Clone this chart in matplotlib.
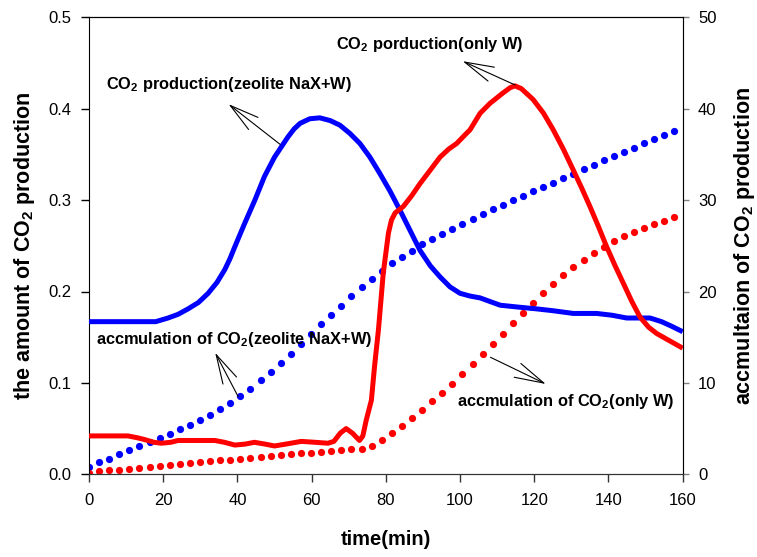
import numpy as np
import matplotlib
matplotlib.use("Agg")
import matplotlib.pyplot as plt

plt.rcParams['font.family'] = ['Liberation Sans', 'DejaVu Sans']
plt.rcParams['mathtext.default'] = 'regular'

# ---- data ----
prod_zeo_t = [0, 5, 10, 15, 18, 21.3, 24, 26.7, 29.5, 32.1, 34.5, 36.6, 38, 39.3, 42.0, 44.7,
              47.3, 50.0, 51.8, 53.6, 55.3, 56.9, 59.5, 62.2, 65, 67.6, 70.3, 73.0, 75.7, 78.4,
              81.1, 83.8, 86.5, 89.2, 92, 94.6, 97.3, 100, 102.7, 105.4, 110.8, 115.5, 120.6,
              125, 130.5, 136.8, 141, 144.9, 151.2, 154.3, 157, 160]
prod_zeo_v = [0.167, 0.167, 0.167, 0.167, 0.167, 0.171, 0.175, 0.181, 0.188, 0.198, 0.210, 0.224,
              0.236, 0.249, 0.275, 0.300, 0.326, 0.347, 0.358, 0.369, 0.378, 0.384, 0.389, 0.390,
              0.387, 0.382, 0.373, 0.362, 0.347, 0.329, 0.310, 0.289, 0.267, 0.245, 0.228, 0.216,
              0.205, 0.198, 0.195, 0.193, 0.185, 0.183, 0.181, 0.179, 0.176, 0.176, 0.174, 0.171,
              0.171, 0.167, 0.162, 0.156]

prod_w_t = [0, 5, 10.5, 13, 15, 17.5, 19.5, 22, 24, 26.7, 30, 33.9, 36.5, 39.3, 42, 44.6, 47.5,
            50, 53, 57.2, 61, 64.4, 66, 67.7, 69.3, 71, 72.9, 73.8, 74.7, 76.1, 77, 78, 79.3,
            80.7, 81.5, 82.5, 84.7, 87, 89.2, 92, 94.6, 97, 99.1, 101, 102.7, 105.4, 108.1,
            111.5, 113.5, 114.8, 116.5, 119.7, 122.5, 125.1, 127.8, 130.5, 132.8, 135.0, 137.3,
            139.5, 141.8, 144.0, 146.3, 148.5, 150.8, 153.0, 156.5, 160]
prod_w_v = [0.042, 0.042, 0.042, 0.040, 0.038, 0.035, 0.034, 0.035, 0.037, 0.037, 0.037, 0.037,
            0.035, 0.032, 0.033, 0.035, 0.033, 0.031, 0.033, 0.036, 0.035, 0.034, 0.036, 0.045,
            0.050, 0.045, 0.037, 0.042, 0.059, 0.081, 0.120, 0.158, 0.220, 0.264, 0.278, 0.286,
            0.293, 0.305, 0.318, 0.333, 0.347, 0.356, 0.362, 0.370, 0.377, 0.395, 0.406, 0.417,
            0.423, 0.425, 0.422, 0.410, 0.395, 0.377, 0.356, 0.333, 0.313, 0.293, 0.271, 0.249,
            0.228, 0.209, 0.189, 0.172, 0.161, 0.154, 0.146, 0.138]

accum_t = [0, 2.72, 5.44, 8.16, 10.88, 13.6, 16.32, 19.04, 21.76, 24.48, 27.2, 29.92, 32.64,
           35.36, 38.08, 40.8, 43.52, 46.24, 48.96, 51.68, 54.4, 57.12, 59.84, 62.56, 65.28,
           68.0, 70.72, 73.44, 76.16, 78.88, 81.6, 84.32, 87.04, 89.76, 92.48, 95.2, 97.92,
           100.64, 103.36, 106.08, 108.8, 111.52, 114.24, 116.96, 119.68, 122.4, 125.12,
           127.84, 130.56, 133.28, 136.0, 138.72, 141.44, 144.16, 146.88, 149.6, 152.32,
           155.04, 157.76]
accum_zeo = [0.83, 1.31, 1.71, 2.19, 2.63, 3.10, 3.57, 4.00, 4.44, 4.92, 5.43, 5.94, 6.52, 7.14,
             7.83, 8.57, 9.37, 10.28, 11.19, 12.21, 13.19, 14.22, 15.32, 16.41, 17.43, 18.45,
             19.47, 20.46, 21.37, 22.28, 23.09, 23.81, 24.46, 25.16, 25.78, 26.32, 26.87, 27.42,
             27.96, 28.48, 28.99, 29.50, 30.01, 30.48, 30.96, 31.43, 31.90, 32.42, 32.89, 33.37,
             33.84, 34.35, 34.79, 35.30, 35.73, 36.21, 36.65, 37.09, 37.53]
accum_w = [0.18, 0.36, 0.44, 0.51, 0.62, 0.73, 0.84, 0.95, 1.06, 1.13, 1.24, 1.35, 1.42, 1.53,
           1.60, 1.71, 1.78, 1.89, 1.97, 2.08, 2.19, 2.30, 2.37, 2.48, 2.55, 2.66, 2.77, 2.80,
           3.13, 3.75, 4.55, 5.32, 6.19, 7.07, 7.99, 8.93, 9.91, 10.94, 12.03, 13.13, 14.26,
           15.38, 16.52, 17.68, 18.77, 19.80, 20.82, 21.81, 22.65, 23.48, 24.24, 24.90, 25.49,
           26.04, 26.51, 26.95, 27.38, 27.75, 28.15]

x_ticks = [0, 20, 40, 60, 80, 100, 120, 140, 160]
left_ticks = [0.0, 0.1, 0.2, 0.3, 0.4, 0.5]
right_ticks = [0, 10, 20, 30, 40, 50]

fig = plt.figure(figsize=(7.57, 5.57), dpi=100)
ax = fig.add_axes([89/757, 1-474.3/557, (682.7-89)/757, (474.3-17.3)/557])
ax2 = ax.twinx()

BLUE = '#0000ff'
RED = '#ff0000'

ax.plot(prod_zeo_t, prod_zeo_v, color=BLUE, lw=3.6, solid_capstyle='butt', zorder=3)
ax.plot(prod_w_t, prod_w_v, color=RED, lw=3.6, solid_capstyle='butt', zorder=3)
ax2.plot(accum_t, accum_zeo, ls='none', marker='o', ms=5.2, color=BLUE, mec='none')
ax2.plot(accum_t, accum_w, ls='none', marker='o', ms=5.2, color=RED, mec='none')

ax.set_xlim(0, 160)
ax.set_ylim(0, 0.5)
ax2.set_ylim(0, 50)
ax.set_xticks(x_ticks)
ax.set_yticks(left_ticks)
ax.set_yticklabels([f'{v:.1f}' for v in left_ticks])
ax2.set_yticks(right_ticks)

ax.tick_params(axis='both', direction='out', length=5.5, width=1, labelsize=12, pad=7)
ax.tick_params(axis='x', colors='#333333', labelcolor='black', pad=8)
ax2.tick_params(axis='y', direction='out', length=4, width=1, labelsize=12, pad=7,
                colors='#808080', labelcolor='black')
ax.spines['top'].set_color('black')
ax.spines['left'].set_color('black')
ax.spines['bottom'].set_color('#333333')
ax2.spines['right'].set_color('#808080')
ax2.spines['top'].set_color('black')
ax2.spines['left'].set_visible(False)
ax2.spines['bottom'].set_color('#333333')

ax.set_xlabel('time(min)', fontsize=14.5, fontweight='bold', labelpad=16)
ax.set_ylabel('the amount of CO$_2$ production', fontsize=15.5, fontweight='bold', labelpad=8)
ax2.set_ylabel('accmultaion of CO$_2$ production', fontsize=15.5, fontweight='bold', labelpad=11)

ax.set_zorder(2)
ax.patch.set_visible(False)

arrow = dict(arrowstyle='->,head_length=2.1,head_width=0.55', color='black', lw=0.8,
             shrinkA=0, shrinkB=0)
fs = 11.8
ax.text(4.6, 0.427, 'CO$_2$ production(zeolite NaX+W)', fontsize=fs, fontweight='bold',
        ha='left', va='center')
ax.annotate('', xy=(37.6, 0.405), xytext=(51.5, 0.361), arrowprops=arrow)

ax.text(66.6, 0.470, 'CO$_2$ porduction(only W)', fontsize=fs, fontweight='bold',
        ha='left', va='center')
ax.annotate('', xy=(100.7, 0.452), xytext=(114.8, 0.426), arrowprops=arrow)

ax.text(1.8, 0.147, 'accmulation of CO$_2$(zeolite NaX+W)', fontsize=fs, fontweight='bold',
        ha='left', va='center')
ax.annotate('', xy=(34.0, 0.133), xytext=(40.2, 0.085), arrowprops=arrow)

ax.text(99.3, 0.080, 'accmulation of CO$_2$(only W)', fontsize=fs, fontweight='bold',
        ha='left', va='center')
ax.annotate('', xy=(123.1, 0.0988), xytext=(108.2, 0.128), arrowprops=arrow)

fig.savefig('out.png', dpi=100)
